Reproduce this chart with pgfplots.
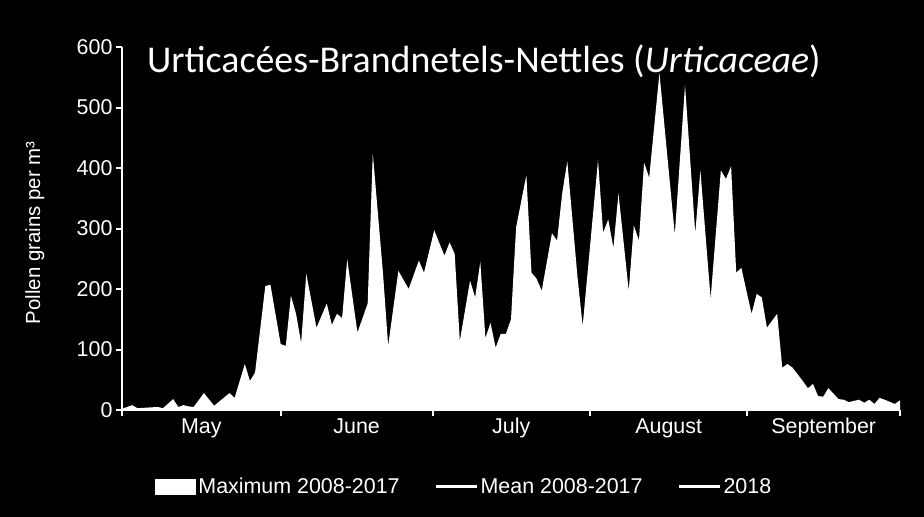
\documentclass[border=0pt]{standalone}
\usepackage{pgfplots}
\pgfplotsset{compat=1.18}
\usepackage{fontspec}
\setmainfont{Liberation Sans}
\newfontfamily\titlefont{Carlito}
\begin{document}
\begin{tikzpicture}
\fill[black] (-122bp,-107bp) rectangle (802bp,410bp);
\begin{axis}[
  scale only axis, width=778bp, height=363bp,
  xmin=0, xmax=152, ymin=0, ymax=600,
  axis x line*=bottom, axis y line*=left,
  axis line style={white, line width=2.5bp},
  tick style={white, line width=2bp},
  tick align=outside, major tick length=6bp,
  xtick={0,31,60.7,91.4,122.2,152},
  xticklabels={May,June,July,August,September},
  x tick label as interval,
  ytick={0,100,...,600},
  ticklabel style={text=white, font=\fontsize{21.5}{24}\selectfont},
  xticklabel style={text height=15bp, text depth=4bp, yshift=1bp},
  /pgf/number format/assume math mode=true,
  ylabel={Pollen grains per m³},
  ylabel style={text=white, font=\fontsize{20.5}{23}\selectfont, at={(axis description cs:-0.112,0.488)}, anchor=center},
  clip=false,
  legend columns=3,
  legend style={at={(axis description cs:0.44,-0.212)}, anchor=center, draw=none, fill=black, text=white,
    font=\fontsize{21.5}{24}\selectfont, /tikz/every even column/.append style={column sep=33bp}},
]
\addplot[fill=white, draw=none, legend image code/.code={\fill[white] (0bp,-8bp) rectangle (41bp,8bp);}] coordinates {
(0,2) (2,8) (3,3) (5,4) (7,5) (8,3) (10,18) (11,5) (12,8) (13,6) (14,5) (16,28) (18,7) (21,28) (22,20)
(24,76) (25,48) (26,62) (28,205) (29,207) (31,109) (32,106) (33,189) (34,159) (35,111) (36,225) (38,136)
(40,176) (41,141) (42,159) (43,152) (44,249) (46,128) (48,176) (49,424) (51,225) (52,106) (54,230)
(56,200) (58,247) (59,227) (61,297) (63,255) (64,277) (65,258) (66,114) (68,214) (69,186) (70,245)
(71,119) (72,144) (73,103) (74,126) (75,126) (76,150) (77,302) (79,388) (80,227) (81,217) (82,197)
(84,292) (85,280) (86,358) (87,411) (89,219) (90,139) (93,413) (94,293) (95,315) (96,268) (97,358)
(99,197) (100,305) (101,280) (102,409) (103,384) (105,557) (108,290) (110,537) (112,292) (113,396)
(115,184) (117,396) (118,382) (119,403) (120,227) (121,235) (123,159) (124,192) (125,186) (126,136)
(128,159) (129,70) (130,76) (131,70) (133,48) (134,36) (135,43) (136,23) (137,22) (138,36) (140,18)
(141,17) (142,13) (144,17) (145,12) (146,17) (147,10) (148,20) (149,17) (151,10) (152,16)
} \closedcycle;
\addlegendentry{Maximum 2008-2017}
\addlegendimage{white, line width=3bp, legend image code/.code={\draw[white, line width=3bp] (0bp,0bp) -- (41bp,0bp);}}
\addlegendentry{Mean 2008-2017}
\addlegendimage{white, line width=3bp, legend image code/.code={\draw[white, line width=3bp] (0bp,0bp) -- (41bp,0bp);}}
\addlegendentry{2018}
\node[anchor=base west, inner sep=0pt, text=white, font=\titlefont\fontsize{38}{40}\selectfont]
  at (axis description cs:0.032,0.931) {Urticacées-Brandnetels-Nettles (\textit{Urticaceae})};
\end{axis}
\end{tikzpicture}
\end{document}
